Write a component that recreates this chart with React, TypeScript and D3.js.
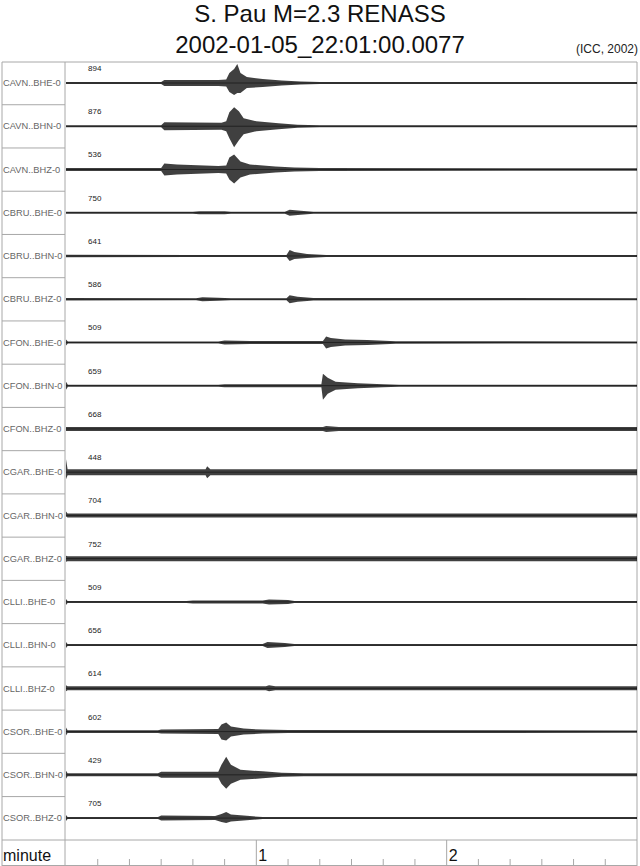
import React from 'react';
import * as d3 from 'd3';

// station channels, top to bottom
const canales = [
  'CAVN..BHE-0', 'CAVN..BHN-0', 'CAVN..BHZ-0',
  'CBRU..BHE-0', 'CBRU..BHN-0', 'CBRU..BHZ-0',
  'CFON..BHE-0', 'CFON..BHN-0', 'CFON..BHZ-0',
  'CGAR..BHE-0', 'CGAR..BHN-0', 'CGAR..BHZ-0',
  'CLLI..BHE-0', 'CLLI..BHN-0', 'CLLI..BHZ-0',
  'CSOR..BHE-0', 'CSOR..BHN-0', 'CSOR..BHZ-0',
];

// peak counts printed above each trace
const maximos = [894, 876, 536, 750, 641, 586, 509, 659, 668, 448, 704, 752, 509, 656, 614, 602, 429, 705];

// trace envelopes: [seconds, up, down] (pixels of deflection)
type Punto = [number, number, number];
const envCAVN_BHE: Punto[] = [[0, 1, 1], [30, 1, 1], [31, 3, 3], [48, 3, 3], [50.5, 3.5, 3.5], [51.5, 10, 9], [53, 14, 12], [54, 19, 10], [55, 10, 10], [57, 6, 5], [62, 4, 4], [68, 2.5, 2.5], [74, 1.5, 1.5], [80, 1, 1], [180, 1, 1]];
const envCAVN_BHN: Punto[] = [[0, 1, 1], [30, 1, 1], [31, 4, 4], [49, 3.5, 3.5], [50.5, 5, 5], [51.5, 14, 12], [53, 19, 21], [54.5, 15, 14], [56, 8, 8], [60, 5, 5], [67, 3, 3], [73, 1.5, 1.5], [80, 1, 1], [180, 1, 1]];
const envCAVN_BHZ: Punto[] = [[0, 1.5, 1.5], [30, 1.5, 1.5], [31, 6, 6], [35, 5, 5], [48, 3.5, 3.5], [50.5, 4, 4], [51.5, 12, 10], [53, 15, 14], [55, 8, 8], [58, 5, 5], [66, 3, 3], [72, 2, 2], [80, 1.5, 1.5], [180, 1.2, 1.2]];
const envCBRU_BHE: Punto[] = [[0, 1, 1], [40, 1, 1], [42, 1.5, 1.5], [50, 1.5, 1.5], [52, 1, 1], [69, 1, 1], [70.5, 3, 3], [74, 2, 2], [78, 1, 1], [180, 1, 1]];
const envCBRU_BHN: Punto[] = [[0, 1.2, 1.2], [40, 1, 1], [69.5, 1, 1], [70.5, 6, 5], [72, 4, 3], [76, 2, 2], [82, 1, 1], [180, 1, 1]];
const envCBRU_BHZ: Punto[] = [[0, 1.2, 1.2], [41, 1, 1], [43, 2, 2], [48, 1.5, 1.5], [52, 1, 1], [69.5, 1, 1], [70.5, 4, 4], [73, 2.5, 2.5], [78, 1.2, 1.2], [180, 1, 1]];
const envCFON_BHE: Punto[] = [[0, 3, 3], [0.6, 1, 1], [48, 1, 1], [50, 2, 2], [58, 1.5, 1.5], [81, 1.5, 1.5], [82, 6, 6], [83.5, 4.5, 4.5], [88, 3, 3], [95, 2.5, 2.5], [104, 1.2, 1.2], [180, 1, 1]];
const envCFON_BHN: Punto[] = [[0, 4, 4], [0.6, 1, 1], [48, 1, 1], [50, 1.5, 1.5], [80.5, 1.5, 1.5], [81, 12, 14], [82.5, 8, 8], [85, 4, 4], [92, 2.5, 2.5], [100, 1.5, 1.5], [105, 1, 1], [180, 1, 1]];
const envCFON_BHZ: Punto[] = [[0, 2, 2], [81, 2, 2], [82, 3, 3], [86, 2, 2], [180, 2, 2]];
const envCGAR_BHE: Punto[] = [[0, 13, 7], [0.5, 3, 3], [44, 3, 3], [44.5, 6, 6], [45.5, 3, 3], [180, 3, 3]];
const envCGAR_BHN: Punto[] = [[0, 4, 1], [0.5, 2, 2], [180, 2, 2]];
const envCGAR_BHZ: Punto[] = [[0, 3, 3], [0.5, 2.5, 2.5], [180, 2.5, 2.5]];
const envCLLI_BHE: Punto[] = [[0, 3, 3], [0.5, 1, 1], [38, 1, 1], [40, 1.5, 1.5], [62, 1.5, 1.5], [64, 2.5, 2.5], [70, 2, 2], [72, 1, 1], [180, 1, 1]];
const envCLLI_BHN: Punto[] = [[0, 3, 3], [0.5, 1, 1], [62, 1, 1], [63.5, 3, 3], [69, 2, 2], [72, 1, 1], [180, 1, 1]];
const envCLLI_BHZ: Punto[] = [[0, 3, 3], [0.5, 2, 2], [63, 2, 2], [64, 3, 3], [66, 2, 2], [180, 2, 2]];
const envCSOR_BHE: Punto[] = [[0, 4, 4], [0.5, 1.3, 1.3], [29, 1.3, 1.3], [30, 2, 2], [48, 2.5, 2.5], [49, 7, 8], [50.5, 9, 9], [52, 5, 5], [56, 3, 3], [62, 2, 2], [70, 1.5, 1.5], [180, 1.2, 1.2]];
const envCSOR_BHN: Punto[] = [[0, 4, 4], [0.5, 1.5, 1.5], [29, 1.5, 1.5], [30, 3, 3], [48, 3, 3], [49, 10, 9], [50.5, 18, 14], [52, 10, 9], [55, 5, 5], [62, 3.5, 3.5], [68, 2, 2], [75, 1.5, 1.5], [180, 1.5, 1.5]];
const envCSOR_BHZ: Punto[] = [[0, 3, 3], [0.5, 1, 1], [29, 1, 1], [30, 2.5, 2.5], [47, 2, 2], [49, 4, 4], [50.5, 6, 5], [52, 3.5, 3.5], [58, 2, 2], [62, 1, 1], [180, 1, 1]];

const envolventes = [
  envCAVN_BHE, envCAVN_BHN, envCAVN_BHZ,
  envCBRU_BHE, envCBRU_BHN, envCBRU_BHZ,
  envCFON_BHE, envCFON_BHN, envCFON_BHZ,
  envCGAR_BHE, envCGAR_BHN, envCGAR_BHZ,
  envCLLI_BHE, envCLLI_BHN, envCLLI_BHZ,
  envCSOR_BHE, envCSOR_BHN, envCSOR_BHZ,
];

// time axis, seconds
const marcasMenores = d3.range(10, 180, 10);
const marcasMayores = [60, 120];
const etiquetasMayores = ['1', '2'];

const ANCHO = 640;
const ALTO = 866;
const FUENTE = '"Liberation Sans", Arial, Helvetica, sans-serif';
const GRIS = '#a8a8a8';

const App: React.FC = () => {
  const marcoTop = 62;
  const ejeTop = 840;
  const izq = 2;
  const der = 637;
  const divisor = 65;
  const base0 = 83;
  const paso = 43.24;

  const x = d3.scaleLinear().domain([0, 180]).range([66, der]);
  const fila = d3.scaleLinear().domain([0, 1]).range([base0, base0 + paso]);

  const area = (i: number) =>
    d3.area<Punto>()
      .x((d) => x(d[0]))
      .y0((d) => fila(i) + d[2])
      .y1((d) => fila(i) - d[1])
      .curve(d3.curveLinear)(envolventes[i]) || '';

  return (
    <svg width={ANCHO} height={ALTO} style={{ position: 'absolute', left: 0, top: 0, background: '#fff' }} fontFamily={FUENTE}>
      <text x={320} y={22} textAnchor="middle" fontSize={24} fill="#111">S. Pau M=2.3 RENASS</text>
      <text x={320} y={53} textAnchor="middle" fontSize={24} fill="#111">2002-01-05_22:01:00.0077</text>
      <text x={638} y={53} textAnchor="end" fontSize={12} fill="#222">(ICC, 2002)</text>

      {/* frame */}
      <line x1={izq} x2={der} y1={marcoTop} y2={marcoTop} stroke={GRIS} />
      <line x1={izq} x2={izq} y1={marcoTop} y2={ALTO} stroke={GRIS} />
      <line x1={der} x2={der} y1={marcoTop} y2={ALTO} stroke={GRIS} />
      <line x1={divisor} x2={divisor} y1={marcoTop} y2={ALTO} stroke={GRIS} />
      <line x1={izq} x2={der} y1={ejeTop} y2={ejeTop} stroke={GRIS} />
      <line x1={izq} x2={der} y1={ALTO - 0.5} y2={ALTO - 0.5} stroke={GRIS} />

      {canales.map((c, i) => (
        <g key={c}>
          {i > 0 && (
            <line x1={izq} x2={divisor} y1={fila(i) - 21.5} y2={fila(i) - 21.5} stroke={GRIS} />
          )}
          <text x={3} y={fila(i)} dy="0.35em" fontSize={9.3} fill="#666">{c}</text>
          <text x={88} y={fila(i) - 12} fontSize={8} fill="#222">{maximos[i]}</text>
          <path d={area(i)} fill="#000" fillOpacity={0.75} />
          <line x1={x(0)} x2={x(180)} y1={fila(i)} y2={fila(i)} stroke="#000" strokeOpacity={0.7} strokeWidth={0.7} />
        </g>
      ))}

      {/* axis row */}
      <text x={3} y={861} fontSize={16} fill="#111">minute</text>
      {marcasMenores.filter((t) => !marcasMayores.includes(t)).map((t) => (
        <line key={t} x1={x(t)} x2={x(t)} y1={859} y2={ALTO} stroke={GRIS} />
      ))}
      {marcasMayores.map((t, k) => (
        <g key={t}>
          <line x1={x(t)} x2={x(t)} y1={ejeTop} y2={ALTO} stroke={GRIS} />
          <text x={x(t) + 2} y={861} fontSize={16} fill="#111">{etiquetasMayores[k]}</text>
        </g>
      ))}
    </svg>
  );
};

export default App;
